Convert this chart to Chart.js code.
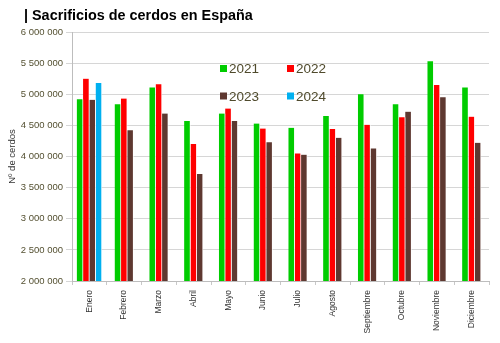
<!DOCTYPE html>
<html lang="es">
  <head>
    <meta charset="UTF-8" />
    <title>Sacrificios de cerdos en España</title>
    <script src="https://cdn.jsdelivr.net/npm/chart.js"></script>
    <style>
      body {
        margin: 0;
        background: white;
        font-family: 'Liberation Sans', Arial, sans-serif;
      }
      #wrap {
        position: relative;
        width: 500px;
        height: 343px;
      }
      #title {
        position: absolute;
        left: 24px;
        top: 5px;
        font-size: 14.4px;
        line-height: 20px;
        font-weight: bold;
        color: #000;
      }
    </style>
  </head>
  <body>
    <div id="wrap">
      <canvas id="pigChart" width="500" height="343"></canvas>
      <div id="title">| Sacrificios de cerdos en España</div>
    </div>

    <script>
      const months = [
        'Enero', 'Febrero', 'Marzo', 'Abril', 'Mayo', 'Junio',
        'Julio', 'Agosto', 'Septiembre', 'Octubre', 'Noviembre', 'Diciembre',
      ]
      const years = ['2021', '2022', '2023', '2024']
      const colors = ['#00cc00', '#ff0000', '#5e3830', '#00b0f0']

      const v2021 = [
        4920000, 4840000, 5110000, 4570000, 4690000, 4530000,
        4460000, 4650000, 5000000, 4840000, 5530000, 5110000,
      ]
      const v2022 = [
        5250000, 4930000, 5160000, 4200000, 4770000, 4450000,
        4050000, 4440000, 4510000, 4630000, 5150000, 4640000,
      ]
      const v2023 = [
        4910000, 4420000, 4690000, 3720000, 4570000, 4230000,
        4030000, 4300000, 4130000, 4720000, 4950000, 4220000,
      ]
      const v2024 = [
        5180000, null, null, null, null, null,
        null, null, null, null, null, null,
      ]
      const series = [v2021, v2022, v2023, v2024]

      const yMin = 2000000
      const yMax = 6000000
      const yStep = 500000

      const fmt = (n) => String(n).replace(/\B(?=(\d{3})+(?!\d))/g, ' ')

      // legend drawn inside the plot, 2 x 2 grid
      const legendGrid = {
        id: 'legendGrid',
        afterDraw(chart) {
          const c = chart.ctx
          c.save()
          c.font = '13.5px "Liberation Sans", Arial, sans-serif'
          c.textBaseline = 'middle'
          chart.data.datasets.forEach((ds, i) => {
            const x = 220 + (i % 2) * 67
            const y = 68.5 + Math.floor(i / 2) * 27.5
            c.fillStyle = ds.backgroundColor
            c.fillRect(x, y - 3.5, 7, 7)
            c.fillStyle = '#4f4a2c'
            c.fillText(ds.label, x + 9, y + 1)
          })
          c.restore()
        },
      }

      new Chart(document.getElementById('pigChart'), {
        type: 'bar',
        data: {
          labels: months,
          datasets: years.map((y, i) => ({
            label: y,
            data: series[i],
            backgroundColor: colors[i],
            borderColor: 'rgba(255,255,255,0.7)',
            borderWidth: { left: 0, right: 1, top: 0, bottom: 0 },
            borderSkipped: false,
            barThickness: 6.3,
            skipNull: true,
          })),
        },
        options: {
          responsive: false,
          animation: false,
          layout: { padding: { top: 32, left: 4, right: 11, bottom: 0 } },
          plugins: {
            legend: { display: false },
            tooltip: { enabled: false },
          },
          scales: {
            x: {
              grid: {
                offset: true,
                drawOnChartArea: false,
                drawTicks: true,
                tickLength: 4,
                color: '#c8c8c8',
              },
              border: { color: '#bdbdbd' },
              ticks: {
                autoSkip: false,
                minRotation: 90,
                maxRotation: 90,
                padding: 5,
                color: '#333',
                font: { family: '"Liberation Sans", Arial, sans-serif', size: 8.5 },
              },
              afterFit: (scale) => {
                scale.height = 62
              },
            },
            y: {
              min: yMin,
              max: yMax,
              ticks: {
                stepSize: yStep,
                padding: 3,
                color: '#545031',
                font: { family: '"Liberation Sans", Arial, sans-serif', size: 9.5 },
                callback: (v) => fmt(v),
              },
              grid: { color: '#d6d6d6', tickLength: 6 },
              border: { color: '#bdbdbd' },
              title: {
                display: true,
                text: 'Nº de cerdos',
                color: '#333',
                padding: 3,
                font: { family: '"Liberation Sans", Arial, sans-serif', size: 9.5 },
              },
              afterFit: (scale) => {
                scale.width = 68
              },
            },
          },
        },
        plugins: [legendGrid],
      })
    </script>
  </body>
</html>
